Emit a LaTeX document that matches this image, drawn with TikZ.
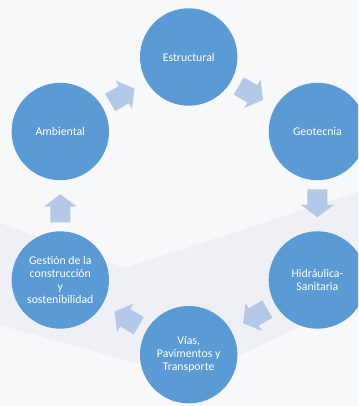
\documentclass[tikz,border=0pt]{standalone}
\usepackage{fontspec}
\setmainfont{Carlito}
\usetikzlibrary{calc}
\definecolor{circblue}{HTML}{5B9BD5}
\definecolor{arrblue}{HTML}{B4C8E7}
\definecolor{bgcol}{HTML}{F7F8FA}
\definecolor{bandcol}{HTML}{EEF0F5}
\begin{document}
\begin{tikzpicture}[x=1pt,y=-1pt,
  disc/.style={circle, fill=circblue, draw=none, minimum size=97.4pt, inner sep=0pt,
    text=white, align=center, font=\fontsize{11.8}{13}\selectfont},
  blockarrow/.pic={\fill[arrblue] (-16.5,-10) -- (-0.8,-10) -- (-0.8,-16.3) -- (11.5,0)
    -- (-0.8,16.3) -- (-0.8,10) -- (-16.5,10) -- cycle;}
]
\useasboundingbox (0,0) rectangle (358,406);
\clip (0,0) rectangle (358,406);
\fill[bgcol] (0,0) rectangle (358,406);
\fill[bandcol] (0,223) -- (125,268) -- (358,192) -- (358,300) -- (190,378) -- (0,325) -- cycle;

\node[disc] (est) at (188.7,57) {Estructural};
\node[disc] (geo) at (317.4,131.5) {Geotecnia};
\node[disc] (hid) at (317.4,280) {Hidráulica-\\Sanitaria};
\node[disc] (via) at (188.7,354.7) {Vías,\\Pavimentos y\\Transporte};
\node[disc] (ges) at (60.3,280) {Gestión de la\\construcción\\y\\sostenibilidad};
\node[disc] (amb) at (60.3,131.5) {Ambiental};

\foreach \a/\b in {amb/est, est/geo, geo/hid, hid/via, via/ges, ges/amb}
  \path let \p1=($(\b)-(\a)$), \n1={atan2(\y1,\x1)} in
    ($(\a)!0.5!(\b)$) pic[rotate=\n1] {blockarrow};
\end{tikzpicture}
\end{document}
